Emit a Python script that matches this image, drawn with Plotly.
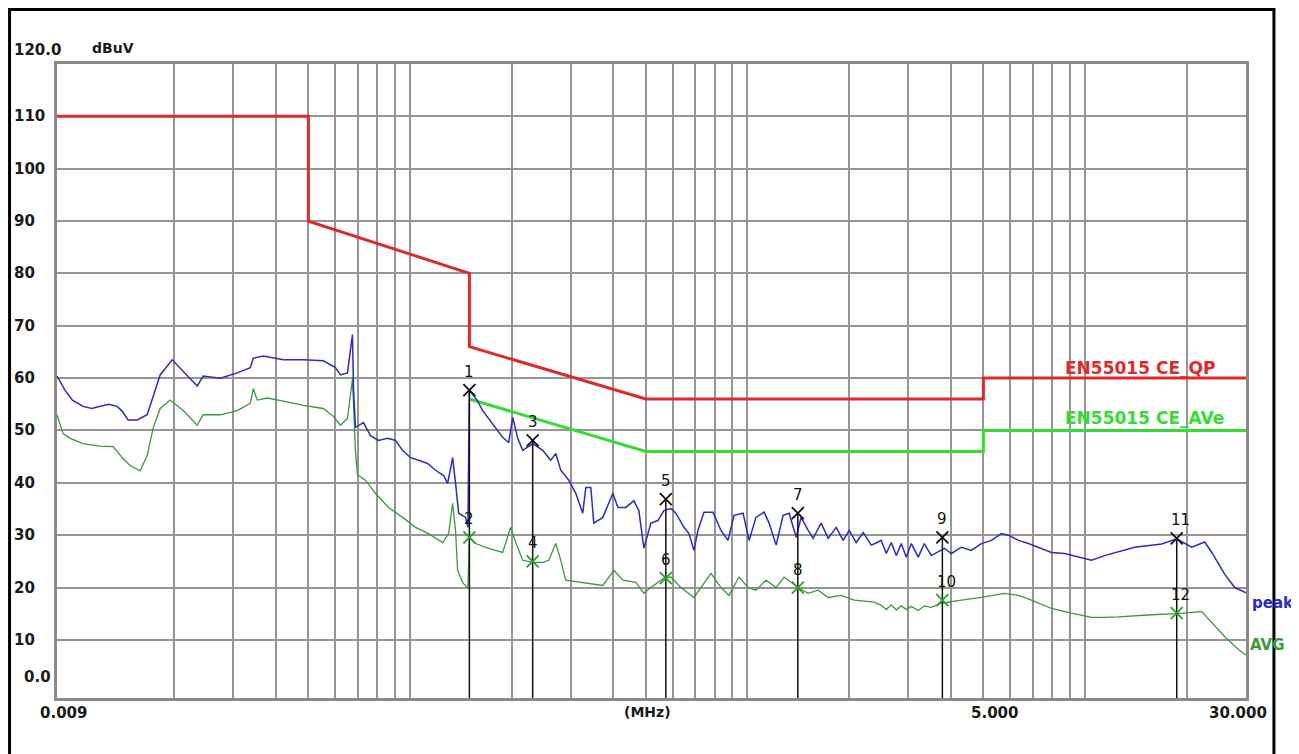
import plotly.graph_objects as go
import math

# ---------------- data ----------------
peak_freq = [0.009, 0.0095, 0.0100, 0.01075, 0.0114, 0.01207, 0.0128, 0.01356, 0.01403, 0.01462,
             0.01555, 0.01665, 0.01734, 0.01819, 0.01975, 0.02129, 0.02342, 0.02440, 0.02741, 0.03079,
             0.03365, 0.03434, 0.03677, 0.04216, 0.04833, 0.05540, 0.06015, 0.06224, 0.06529, 0.06756,
             0.06802, 0.06895, 0.07282, 0.07638, 0.08067, 0.08580, 0.09062, 0.09506, 0.1004, 0.1060,
             0.1128, 0.1191, 0.1258, 0.1293, 0.1338, 0.1365, 0.1394, 0.1462, 0.1485, 0.150,
             0.1587, 0.1642, 0.1758, 0.1882, 0.1961, 0.2016, 0.2086, 0.2158, 0.2311, 0.2474,
             0.2613, 0.2704, 0.2798, 0.2955, 0.3100, 0.3251, 0.3319, 0.3434, 0.3505, 0.3728,
             0.3992, 0.4130, 0.4362, 0.4607, 0.4767, 0.4933, 0.5174, 0.5428, 0.5655, 0.5932,
             0.6138, 0.6483, 0.6708, 0.6941, 0.7133, 0.7432, 0.7903, 0.8347, 0.8756, 0.9123,
             0.9702, 1.011, 1.060, 1.120, 1.159, 1.216, 1.275, 1.329, 1.394, 1.442,
             1.513, 1.565, 1.653, 1.734, 1.832, 1.921, 2.002, 2.100, 2.203, 2.327,
             2.407, 2.491, 2.578, 2.667, 2.760, 2.856, 2.955, 3.058, 3.207, 3.341,
             3.505, 3.831, 4.019, 4.303, 4.607, 4.933, 5.282, 5.655, 5.932, 6.351,
             6.800, 7.281, 7.960, 8.696, 9.571, 10.46, 11.43, 14.034, 16.875, 18.70,
             20.71, 22.64, 23.75, 25.96, 27.78, 30.0]
peak_level = [60.4, 57.7, 55.8, 54.6, 54.2, 54.6, 55.0, 54.6, 53.7, 52.0,
              52.0, 53.0, 56.7, 60.6, 63.5, 61.3, 58.5, 60.4, 60.0, 61.0,
              62.0, 63.8, 64.2, 63.5, 63.5, 63.3, 62.0, 60.6, 61.0, 68.3,
              58.0, 50.6, 51.5, 49.0, 48.1, 48.5, 48.1, 46.2, 44.8, 44.3,
              43.7, 42.4, 41.4, 39.9, 44.8, 39.9, 34.2, 33.4, 31.5, 57.7,
              55.6, 53.8, 51.3, 48.7, 47.7, 52.5, 48.5, 46.2, 47.5, 46.2,
              44.3, 45.6, 42.4, 40.5, 38.0, 34.2, 39.1, 39.1, 32.3, 33.4,
              38.0, 35.3, 35.3, 36.6, 34.7, 27.5, 32.3, 32.8, 34.7, 35.1,
              34.2, 31.5, 30.3, 27.1, 30.9, 34.4, 34.4, 30.9, 29.0, 33.8,
              34.2, 29.0, 33.4, 34.4, 32.3, 28.1, 33.8, 34.2, 29.6, 33.4,
              30.9, 29.4, 32.3, 29.4, 31.5, 29.0, 30.9, 28.6, 30.5, 28.1,
              28.5, 29.0, 26.5, 28.6, 26.1, 28.4, 25.8, 28.4, 25.8, 28.4,
              26.1, 27.5, 26.5, 27.7, 27.1, 28.4, 29.0, 30.3, 30.0, 29.0,
              28.4, 27.7, 26.7, 26.5, 25.8, 25.2, 26.1, 27.7, 28.3, 29.3,
              27.7, 28.7, 26.7, 22.5, 20.0, 19.0]

avg_freq = [0.009, 0.00938, 0.00984, 0.01075, 0.01207, 0.0132, 0.01413, 0.01482, 0.01587, 0.01665,
            0.01734, 0.01819, 0.01948, 0.02129, 0.02342, 0.02440, 0.02741, 0.03079, 0.03365, 0.03434,
            0.03529, 0.03781, 0.04216, 0.04833, 0.05540, 0.05933, 0.06224, 0.06529, 0.06756, 0.06896,
            0.06991, 0.07383, 0.07905, 0.08639, 0.09506, 0.1039, 0.1135, 0.1250, 0.1302, 0.1338,
            0.1365, 0.1384, 0.1432, 0.1485, 0.150, 0.1565, 0.1711, 0.1882, 0.1988, 0.2057,
            0.2158, 0.2311, 0.2474, 0.2578, 0.2704, 0.2798, 0.2895, 0.3251, 0.3728, 0.4019,
            0.4273, 0.4671, 0.4933, 0.5174, 0.5655, 0.5932, 0.6351, 0.6941, 0.7432, 0.7796,
            0.8347, 0.8816, 0.9440, 1.004, 1.060, 1.135, 1.216, 1.284, 1.413, 1.513,
            1.620, 1.734, 1.895, 2.071, 2.375, 2.491, 2.578, 2.667, 2.760, 2.856,
            2.955, 3.058, 3.207, 3.341, 3.505, 3.753, 4.303, 4.933, 5.772, 6.351,
            6.941, 7.960, 9.1225, 10.46, 11.43, 12.58, 15.762, 18.70, 22.18, 23.75,
            25.96, 28.55, 30.0]
avg_level = [53.0, 49.4, 48.5, 47.5, 47.0, 46.9, 44.6, 43.3, 42.3, 45.2,
             50.4, 54.2, 55.8, 53.8, 51.0, 53.0, 53.0, 53.8, 55.2, 58.0,
             55.8, 56.2, 55.6, 54.8, 54.2, 52.7, 51.0, 52.3, 59.8, 46.0,
             41.5, 40.5, 38.0, 35.3, 33.4, 31.5, 30.3, 28.6, 30.3, 36.1,
             30.9, 23.3, 21.0, 19.8, 29.6, 28.4, 27.5, 26.7, 31.5, 28.6,
             25.2, 24.8, 24.8, 25.2, 28.4, 25.2, 21.4, 21.0, 20.4, 23.3,
             21.4, 21.0, 18.9, 20.0, 21.8, 22.0, 20.0, 18.1, 20.8, 22.7,
             20.0, 18.5, 22.0, 20.0, 19.5, 21.4, 20.0, 22.0, 20.0, 18.9,
             19.5, 18.1, 18.5, 17.6, 17.2, 16.6, 15.8, 16.7, 15.7, 16.5,
             15.8, 16.4, 15.6, 16.5, 16.2, 17.0, 17.6, 18.1, 18.9, 18.5,
             17.6, 16.0, 15.1, 14.3, 14.3, 14.4, 14.8, 15.0, 15.4, 13.3,
             10.6, 8.1, 7.1]

qp_limit_freq = [0.009, 0.05, 0.05, 0.15, 0.15, 0.5, 5.0, 5.0, 30.0]
qp_limit_level = [110, 110, 90, 80, 66, 56, 56, 60, 60]
av_limit_freq = [0.15, 0.5, 5.0, 5.0, 30.0]
av_limit_level = [56, 46, 46, 50, 50]

marker_no = [1, 2, 3, 4, 5, 6, 7, 8, 9, 10, 11, 12]
marker_freq = [0.15, 0.15, 0.231, 0.231, 0.573, 0.573, 1.41, 1.41, 3.78, 3.78, 18.7, 18.7]
marker_level = [57.7, 29.6, 48.1, 25.0, 36.9, 21.8, 34.2, 20.0, 29.6, 17.6, 29.4, 15.1]

grid_freq = [0.02, 0.03, 0.04, 0.05, 0.06, 0.07, 0.08, 0.09, 0.1,
             0.2, 0.3, 0.4, 0.5, 0.6, 0.7, 0.8, 0.9, 1.0,
             2, 3, 4, 5, 6, 7, 8, 9, 10, 20]
y_grid = [10, 20, 30, 40, 50, 60, 70, 80, 90, 100, 110]
y_tick_text = ["10", "20", "30", "40", "50", "60", "70", "80", "90", "100", "110"]
x_label_freq = [0.009, 5.0, 30.0]
x_label_text = ["0.009", "5.000", "30.000"]

Y_MIN, Y_MAX = -1.1, 120.0
F_MIN, F_MAX = 0.009, 30.0

# ---------------- figure ----------------
FONT = "DejaVu Sans"
BLUE = "#2b2bc8"
DGREEN = "#3a9a3a"
LGREEN = "#33dd33"
RED = "#dd2b2b"

fig = go.Figure()

fig.add_trace(go.Scatter(x=qp_limit_freq, y=qp_limit_level, mode="lines",
                         line=dict(color=RED, width=3), hoverinfo="skip"))
fig.add_trace(go.Scatter(x=av_limit_freq, y=av_limit_level, mode="lines",
                         line=dict(color=LGREEN, width=3), hoverinfo="skip"))

fig.add_trace(go.Scatter(x=avg_freq, y=avg_level, mode="lines",
                         line=dict(color=DGREEN, width=1.3), hoverinfo="skip"))
fig.add_trace(go.Scatter(x=peak_freq, y=peak_level, mode="lines",
                         line=dict(color=BLUE, width=1.5), hoverinfo="skip"))

# marker drop lines (from each peak marker down to the bottom of the plot)
vx, vy = [], []
for n, f, lv in zip(marker_no, marker_freq, marker_level):
    if n % 2 == 1:
        vx += [f, f, None]
        vy += [lv, Y_MIN, None]
fig.add_trace(go.Scatter(x=vx, y=vy, mode="lines",
                         line=dict(color="#111111", width=1.5), hoverinfo="skip"))

pk_f = [f for n, f in zip(marker_no, marker_freq) if n % 2 == 1]
pk_l = [l for n, l in zip(marker_no, marker_level) if n % 2 == 1]
av_f = [f for n, f in zip(marker_no, marker_freq) if n % 2 == 0]
av_l = [l for n, l in zip(marker_no, marker_level) if n % 2 == 0]
fig.add_trace(go.Scatter(x=pk_f, y=pk_l, mode="markers",
                         marker=dict(symbol="x-thin-open", size=12, color="#111111",
                                     line=dict(color="#111111", width=1.8)),
                         hoverinfo="skip"))
fig.add_trace(go.Scatter(x=av_f, y=av_l, mode="markers",
                         marker=dict(symbol="x-thin-open", size=12, color="#2f9f2f",
                                     line=dict(color="#2f9f2f", width=1.8)),
                         hoverinfo="skip"))

annotations = []
for n, f, lv in zip(marker_no, marker_freq, marker_level):
    annotations.append(dict(x=math.log10(f), y=lv, xref="x", yref="y", text=str(n),
                            showarrow=False, yshift=18, xshift=(4 if n >= 10 else 0),
                            font=dict(family=FONT, size=15, color="#111111")))

tick_font = dict(family=FONT, size=15, color="#1a1a1a", weight="bold")
for v, t in zip(y_grid, y_tick_text):
    annotations.append(dict(x=0, y=v, xref="paper", yref="y", text=t, showarrow=False,
                            xanchor="left", xshift=-45, font=tick_font))
annotations.append(dict(x=0, y=Y_MAX, xref="paper", yref="y", text="120.0", showarrow=False,
                        xanchor="left", xshift=-45, yshift=14, font=tick_font))
annotations.append(dict(x=0, y=Y_MAX, xref="paper", yref="y", text="dBuV", showarrow=False,
                        xanchor="left", xshift=33, yshift=16,
                        font=dict(family=FONT, size=14, color="#1a1a1a", weight="bold")))
annotations.append(dict(x=0, y=0, xref="paper", yref="y", text="0.0", showarrow=False,
                        xanchor="left", xshift=-35, yshift=15, font=tick_font))
for f, t in zip(x_label_freq, x_label_text):
    annotations.append(dict(x=math.log10(f), y=0, xref="x", yref="paper", text=t,
                            showarrow=False, yanchor="top", yshift=-4,
                            xshift=(6 if t == "0.009" else (11 if t == "5.000" else -8)),
                            font=tick_font))
annotations.append(dict(x=math.log10(0.5), y=0, xref="x", yref="paper", text="(MHz)",
                        showarrow=False, yanchor="top", yshift=-4, xshift=2,
                        font=dict(family=FONT, size=14, color="#1a1a1a", weight="bold")))

annotations.append(dict(x=0.846, y=62, xref="paper", yref="y", text="EN55015 CE_QP",
                        showarrow=False, xanchor="left",
                        font=dict(family=FONT, size=17, color=RED, weight="bold")))
annotations.append(dict(x=0.846, y=52.3, xref="paper", yref="y", text="EN55015 CE_AVe",
                        showarrow=False, xanchor="left",
                        font=dict(family=FONT, size=17, color=LGREEN, weight="bold")))
annotations.append(dict(x=1, y=17, xref="paper", yref="y", text="peak",
                        showarrow=False, xanchor="left", xshift=4,
                        font=dict(family=FONT, size=15, color=BLUE, weight="bold")))
annotations.append(dict(x=1, y=9, xref="paper", yref="y", text="AVG",
                        showarrow=False, xanchor="left", xshift=2,
                        font=dict(family=FONT, size=15, color=DGREEN, weight="bold")))

fig.update_layout(
    width=1291, height=746,
    margin=dict(l=49, r=53, t=56, b=56),
    paper_bgcolor="white", plot_bgcolor="white",
    showlegend=False,
    annotations=annotations,
    shapes=[dict(type="rect", xref="paper", yref="paper",
                 x0=-0.0399, x1=1.0235, y0=-0.12, y1=1.0859,
                 line=dict(color="black", width=3), layer="above")],
    xaxis=dict(type="log", range=[math.log10(F_MIN), math.log10(F_MAX)],
               tickvals=grid_freq, showticklabels=False, ticks="",
               showgrid=True, gridcolor="#969696", gridwidth=1.8,
               showline=True, linecolor="#8a8a8a", linewidth=2.5, mirror=True,
               zeroline=False),
    yaxis=dict(range=[Y_MIN, Y_MAX], tickvals=y_grid, showticklabels=False, ticks="",
               showgrid=True, gridcolor="#969696", gridwidth=1.8,
               showline=True, linecolor="#8a8a8a", linewidth=2.5, mirror=True,
               zeroline=False),
)

fig.write_html("out.html")
